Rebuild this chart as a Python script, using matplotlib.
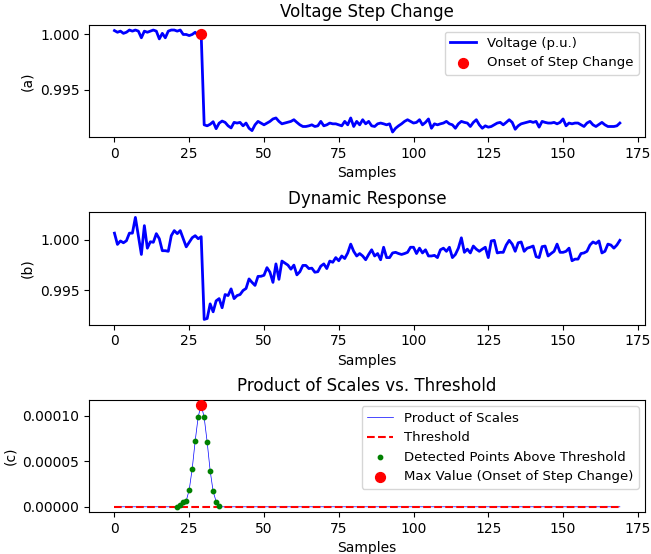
import numpy as np
import matplotlib
matplotlib.use("Agg")
import matplotlib.pyplot as plt

# samples 0..169
samples = np.arange(170)

# (a) voltage with step change at sample 29
voltage_pre = [1.00035, 1.0002, 1.0003, 1.0001, 1.0002, 1.0004, 1.0003, 1.0004, 1.0003, 0.9997,
               1.0003, 1.0002, 1.0003, 1.0004, 1.0003, 0.9996, 1.0001, 0.9997, 1.0003, 1.0004,
               1.0004, 1.0003, 1.0004, 1.0000, 1.0000, 0.9999, 1.0000, 1.0002, 0.9999, 1.0000]
voltage_post = [0.99185, 0.99176, 0.99190, 0.99213, 0.99150, 0.99200, 0.99219, 0.99207, 0.99176, 0.99157,
                0.99207, 0.99201, 0.99207, 0.99176, 0.99201, 0.99154, 0.99133, 0.99185, 0.99216, 0.99201,
                0.99185, 0.99201, 0.99216, 0.99238, 0.99247, 0.99216, 0.99194, 0.99201, 0.99207, 0.99216,
                0.99231, 0.99207, 0.99185, 0.99170, 0.99170, 0.99176, 0.99185, 0.99170, 0.99176, 0.99216,
                0.99176, 0.99185, 0.99201, 0.99194, 0.99194, 0.99185, 0.99176, 0.99216, 0.99185, 0.99247,
                0.99170, 0.99216, 0.99185, 0.99231, 0.99194, 0.99216, 0.99176, 0.99170, 0.99194, 0.99201,
                0.99194, 0.99185, 0.99194, 0.99120, 0.99154, 0.99176, 0.99194, 0.99216, 0.99231, 0.99216,
                0.99201, 0.99207, 0.99231, 0.99185, 0.99207, 0.99238, 0.99154, 0.99194, 0.99185, 0.99194,
                0.99201, 0.99216, 0.99194, 0.99185, 0.99154, 0.99194, 0.99216, 0.99207, 0.99201, 0.99170,
                0.99207, 0.99231, 0.99185, 0.99154, 0.99176, 0.99164, 0.99170, 0.99185, 0.99201, 0.99207,
                0.99185, 0.99207, 0.99231, 0.99207, 0.99145, 0.99176, 0.99194, 0.99201, 0.99207, 0.99216,
                0.99207, 0.99216, 0.99164, 0.99216, 0.99207, 0.99201, 0.99201, 0.99207, 0.99194, 0.99207,
                0.99238, 0.99176, 0.99201, 0.99194, 0.99201, 0.99201, 0.99185, 0.99170, 0.99201, 0.99216,
                0.99185, 0.99170, 0.99188, 0.99207, 0.99185, 0.99170, 0.99170, 0.99170, 0.99176, 0.99201]
voltage = np.array(voltage_pre + voltage_post)
onset = 29

# (b) dynamic response
response_pre = [1.00065, 0.99954, 0.99988, 0.9997, 0.9999, 1.00065, 1.00065, 1.0022, 1.0004, 0.99855,
                1.00139, 0.99917, 0.9998, 0.99975, 1.0006, 1.0001, 0.99892, 0.99892, 0.99886, 1.0004,
                1.0009, 1.0006, 1.0009, 1.0001, 0.9993, 0.99975, 1.0002, 1.0004, 1.0001, 1.0003]
response_post = [0.99215, 0.99224, 0.99368, 0.9929, 0.99398, 0.9942, 0.9933, 0.9946, 0.9945, 0.99516,
                 0.9942, 0.9945, 0.9946, 0.9950, 0.9952, 0.99614, 0.9958, 0.9955, 0.99639, 0.9964,
                 0.9965, 0.99725, 0.9968, 0.9958, 0.99762, 0.9961, 0.9979, 0.9977, 0.9975, 0.9971,
                 0.9975, 0.99654, 0.99685, 0.99747, 0.99747, 0.99716, 0.9972, 0.9968, 0.99685, 0.9974,
                 0.99762, 0.99716, 0.9979, 0.99778, 0.99824, 0.99793, 0.9984, 0.99815, 0.9987, 0.99957,
                 0.99886, 0.9984, 0.99864, 0.9984, 0.99803, 0.99855, 0.99901, 0.9984, 0.99864, 0.99803,
                 0.99926, 0.99824, 0.99824, 0.9987, 0.99876, 0.99864, 0.99855, 0.99864, 0.99876, 0.99926,
                 0.99926, 0.99864, 0.99917, 0.9987, 0.99901, 0.9984, 0.9984, 0.99846, 0.99824, 0.99901,
                 0.99917, 0.99886, 0.99926, 0.99824, 0.99855, 0.99917, 1.00019, 0.99876, 0.99907, 0.9987,
                 0.99938, 0.99907, 0.99886, 0.99907, 0.99926, 0.99824, 0.99988, 0.99994, 0.9987, 0.99876,
                 0.99876, 0.99948, 0.99994, 0.99957, 0.99886, 0.9997, 0.99978, 0.99886, 0.99917, 0.99926,
                 0.99938, 0.99833, 0.99824, 0.99932, 0.99938, 0.9984, 0.99864, 0.99886, 0.99957, 0.99876,
                 0.99876, 0.99886, 0.99917, 0.99793, 0.99809, 0.99809, 0.99864, 0.9987, 0.99886, 0.99948,
                 0.99978, 0.99963, 0.99988, 0.9987, 0.99886, 0.99957, 0.99948, 0.99917, 0.99948, 0.99994]
response = np.array(response_pre + response_post)

# (c) product of scales, non-zero only around the step
peak_idx = list(range(21, 36))
peak_vals = [0.3e-6, 2.2e-6, 5.0e-6, 6.6e-6, 1.87e-5, 4.18e-5, 7.25e-5, 9.89e-5,
             1.12e-4, 9.81e-5, 7.11e-5, 3.96e-5, 1.68e-5, 5.8e-6, 1.1e-6]
product = np.zeros(170)
product[peak_idx] = peak_vals
threshold = 1e-7

fig, (ax1, ax2, ax3) = plt.subplots(3, 1, figsize=(6.51, 5.54), dpi=100)
fig.subplots_adjust(left=0.137, right=0.991, top=0.955, bottom=0.076, hspace=0.67)

ax1.plot(samples, voltage, color="b", lw=2, label="Voltage (p.u.)")
ax1.scatter(onset, voltage[onset], color="r", s=50, zorder=3, label="Onset of Step Change")
ax1.set_title("Voltage Step Change")
ax1.set_xlabel("Samples")
ax1.set_ylabel("(a)")
ax1.legend(loc="upper right", fontsize=9.5)

ax2.plot(samples, response, color="b", lw=2)
ax2.set_title("Dynamic Response")
ax2.set_xlabel("Samples")
ax2.set_ylabel("(b)")

above = product > threshold
ax3.plot(samples, product, color="b", lw=0.5, label="Product of Scales")
ax3.plot(samples, np.full(170, threshold), "r--", lw=1.5, label="Threshold")
ax3.scatter(samples[above], product[above], color="g", s=10, zorder=3,
            label="Detected Points Above Threshold")
imax = int(np.argmax(product))
ax3.scatter(imax, product[imax], color="r", s=50, zorder=4,
            label="Max Value (Onset of Step Change)")
ax3.set_title("Product of Scales vs. Threshold")
ax3.set_xlabel("Samples")
ax3.set_ylabel("(c)")
ax3.legend(loc="upper right", fontsize=9.5)

fig.savefig("out.png")
